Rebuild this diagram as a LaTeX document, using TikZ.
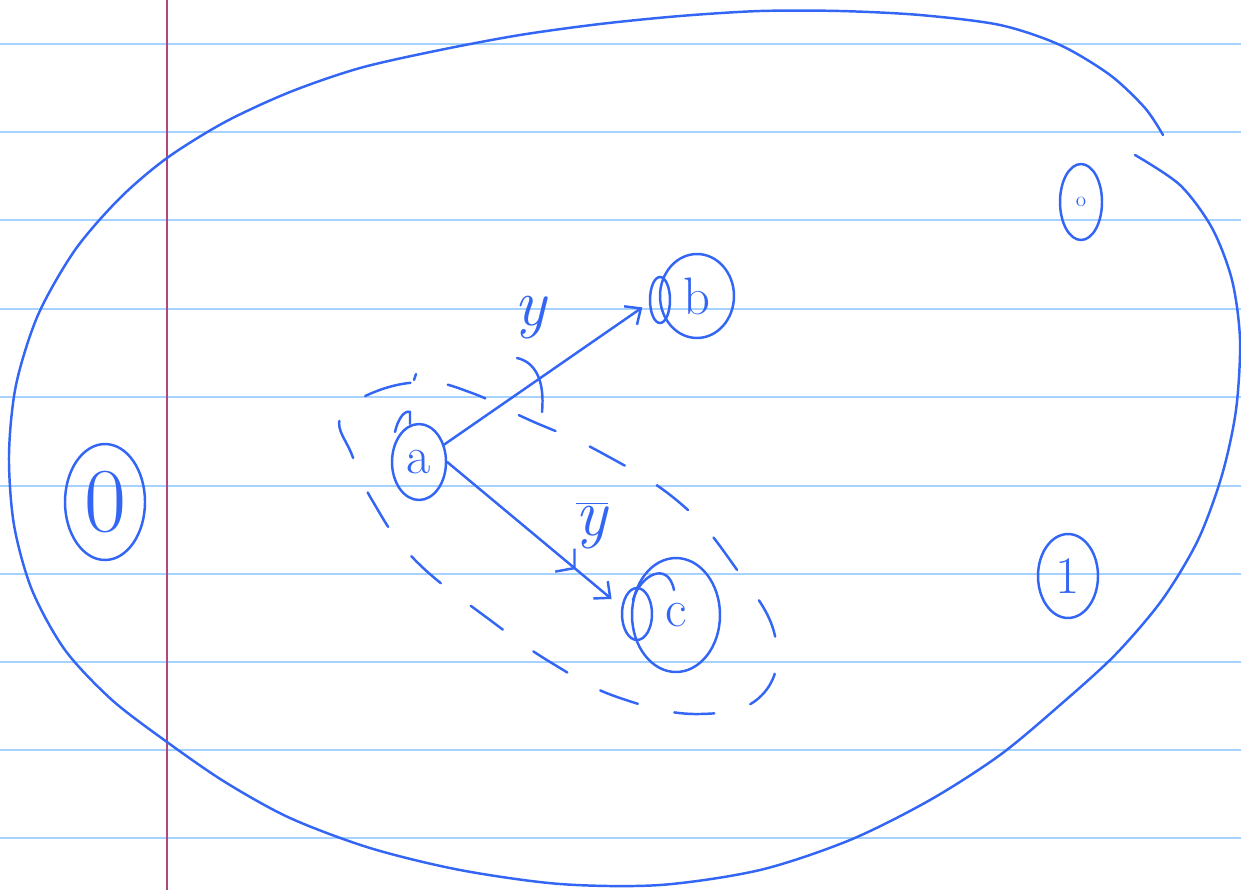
\documentclass[tikz,border=0pt]{standalone}
\usepackage{fontspec}
\usepackage{tikz}
\usetikzlibrary{arrows.meta,shapes.geometric,decorations.markings}
\definecolor{ink}{HTML}{3366F5}
\definecolor{ruled}{HTML}{A6D2FF}
\definecolor{margin}{HTML}{B0467C}

\begin{document}
\begin{tikzpicture}[x=0.02cm, y=-0.02cm,
        pen/.style={draw=ink, line width=1.4pt, line cap=round},
        state/.style={ellipse, pen, inner sep=0pt, text=ink,
        font=\fontsize{30}{30}\selectfont},
        trans/.style={pen, -{Straight Barb[length=2.5mm, width=4.5mm]}},
        midtip/.style={postaction={decorate}, decoration={markings,
        mark=at position #1 with {\arrow{Straight Barb[length=2.5mm, width=6mm]}}}},
        lbl/.style={text=ink, inner sep=0pt, font=\fontsize{38}{38}\selectfont\itshape},
        dashedge/.style={pen, dash pattern=on 0.8cm off 0.75cm},
      ]
      \fill[white] (0,0) rectangle (1241,890);
      \useasboundingbox (0,0) rectangle (1241,890);

      \foreach \ly in {44,132,220,309,397,486,574,662,750,838}
        \draw[ruled, line width=1.1pt] (0,\ly) -- (1241,\ly);
      \draw[margin, line width=0.8pt] (167,0) -- (167,890);

      \draw[pen] plot[smooth, tension=0.5] coordinates {(1135,155) (1180,185)
      (1212,228) (1232,280) (1240,340) (1236,410) (1222,475) (1198,540)
      (1162,600) (1115,655) (1060,705) (1000,755) (930,800) (850,840)
      (760,870) (660,885) (560,884) (460,870) (370,848) (290,818) (225,782)
      (167,742) (112,700) (65,650) (32,590) (14,525) (9,455) (16,385)
      (38,315) (75,250) (120,198) (167,158) (225,122) (290,92) (360,68)
      (440,50) (520,35) (600,24) (680,16) (760,11) (840,11) (920,15)
      (1000,25) (1060,45) (1110,75) (1145,108) (1163,135)};

      \draw[dashedge] plot[smooth cycle, tension=0.7] coordinates {(340,418)
      (372,393) (425,382) (472,393) (525,418) (600,452) (680,503) (735,567)
      (775,636) (762,695) (700,714) (620,698) (555,665) (490,620) (415,560)
      (372,500) (352,455)};
      \draw[pen] (517,358) .. controls (535,362) and (545,380) .. (542,412);
      \draw[pen] (414,380) -- (416,374);

      \node[state, minimum width=1.6cm, minimum height=2.32cm,
      font=\fontsize{52}{52}\selectfont] (zero) at (105,502) {0};
      \node[state, minimum width=0.84cm, minimum height=1.52cm, font=\large]
      (oh) at (1081,202) {o};
      \node[state, minimum width=1.48cm, minimum height=1.68cm] (b) at (697,296) {b};
      \node[state, minimum width=1.08cm, minimum height=1.52cm] (a) at (419,462) {a};
      \node[state, minimum width=1.76cm, minimum height=2.28cm] (c) at (676,615) {c};
      \node[state, minimum width=1.2cm, minimum height=1.68cm] (one) at (1068,576) {1};

      \draw[pen] (660,300) ellipse [x radius=10, y radius=23];
      \draw[pen] (637,614) ellipse [x radius=15, y radius=26];
      \draw[pen] (633,600) .. controls (640,575) and (668,560) .. (674,590);
      \draw[pen] (395,432) .. controls (398,418) and (405,410) .. (410,412)
      -- (410,424);

      \draw[trans, shorten >=0.4cm] (a) -- node[lbl, pos=0.4, above=0.9cm]
      {y} (b.west);
      \draw[trans, midtip=0.7, shorten >=0.5cm] (a.east) -- node[lbl,
      pos=0.64, above right=0.2cm] {$\overline{\mbox{y}}$} (c.west);
    \end{tikzpicture}
\end{document}
